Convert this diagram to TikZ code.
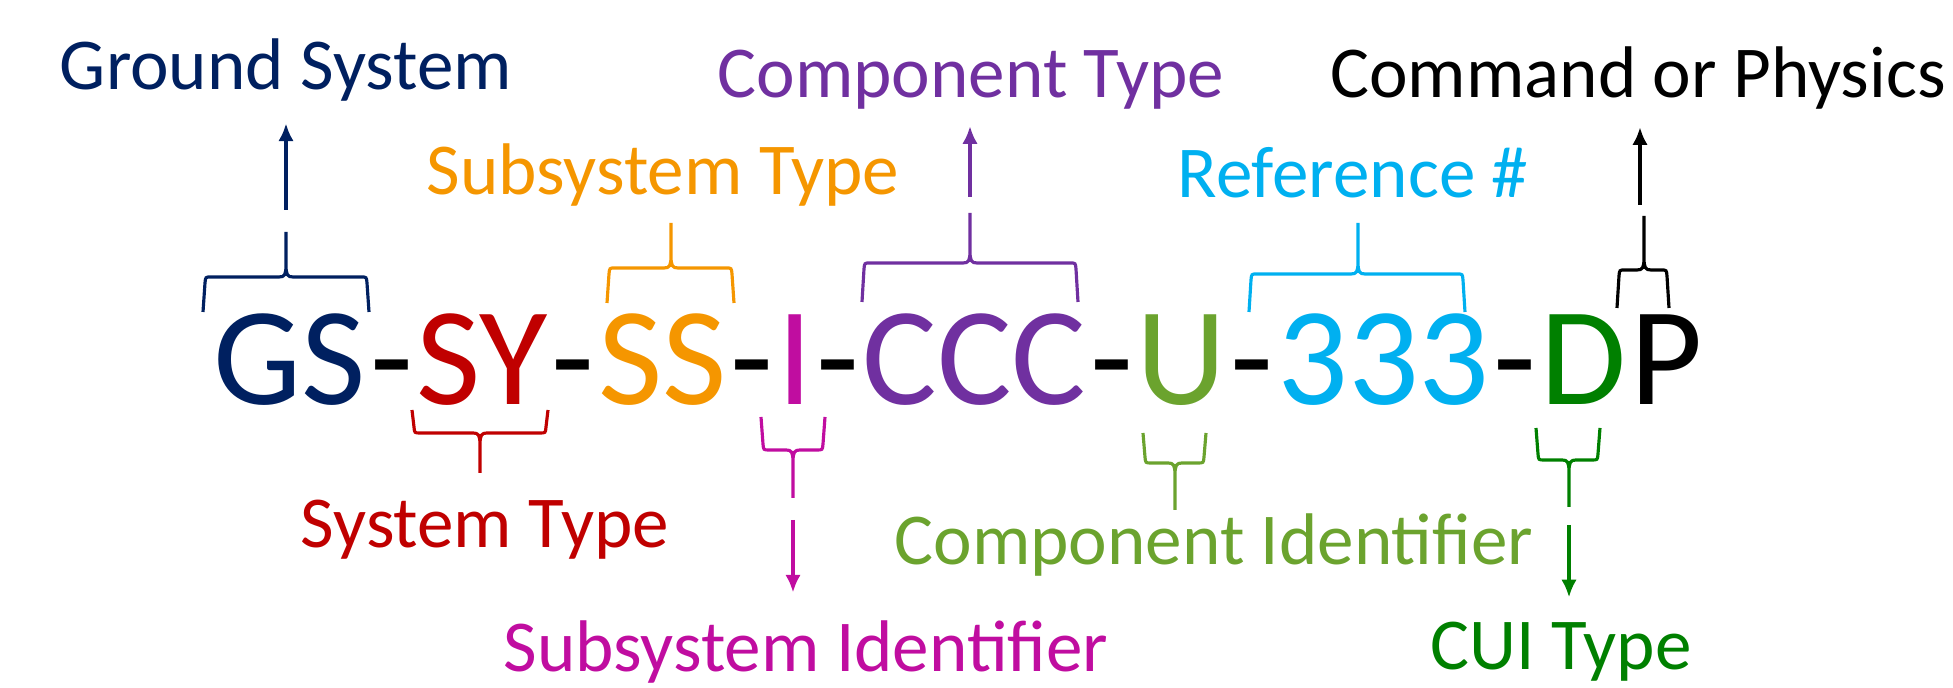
\documentclass[tikz,border=0pt]{standalone}
\usepackage{fontspec}
\setmainfont{Carlito}
\usetikzlibrary{arrows.meta, positioning}

\definecolor{gsnavy}{HTML}{002060}
\definecolor{syred}{HTML}{C00000}
\definecolor{ssorange}{HTML}{F59600}
\definecolor{imagenta}{HTML}{C00DA0}
\definecolor{cccpurple}{HTML}{7030A0}
\definecolor{ugreen}{HTML}{6BA32E}
\definecolor{refcyan}{HTML}{00B0F0}
\definecolor{dgreen}{HTML}{008000}

\tikzset{
  seg/.style={inner sep=0pt, font=\fontsize{39.8}{48}\selectfont},
  lbl/.style={inner sep=0pt, anchor=base, font=\fontsize{20.8}{25}\selectfont},
  brace/.style={line width=0.9pt},
  arr/.style={->, line width=0.9pt},
}

% colour, left x, right x, tip x, end y, bar y, tip y, direction (1 up, -1 down)
\newcommand{\cbrace}[8]{%
  \draw[brace, #1] (#2,#5) -- ({#2+0.02},{#6-(#8)*0.06})
    .. controls ({#2+0.025},{#6}) .. ({#2+0.08},{#6}) -- ({#4-0.07},{#6})
    .. controls ({#4-0.015},{#6}) and ({#4},{#6+(#8)*0.02}) .. ({#4},{#6+(#8)*0.12})
    -- (#4,#7)
    ({#4},{#6+(#8)*0.12})
    .. controls ({#4},{#6+(#8)*0.02}) and ({#4+0.015},{#6}) .. ({#4+0.07},{#6})
    -- ({#3-0.08},{#6})
    .. controls ({#3-0.025},{#6}) .. ({#3-0.02},{#6-(#8)*0.06}) -- (#3,#5);
}

\begin{document}
\begin{tikzpicture}[>={Latex[length=5pt,width=4.4pt]}]
  \useasboundingbox (0,0) rectangle (19.53,6.88);

  % the identifier
  \node[seg, anchor=base west, text=gsnavy] (gs) at (2.13,2.83) {GS};
  \node[seg, base right=0.68pt of gs] (h1) {-};
  \node[seg, base right=0.68pt of h1, text=syred] (sy) {SY};
  \node[seg, base right=0.68pt of sy] (h2) {-};
  \node[seg, base right=0.68pt of h2, text=ssorange] (ss) {SS};
  \node[seg, base right=0.68pt of ss] (h3) {-};
  \node[seg, base right=0.68pt of h3, text=imagenta] (ii) {I};
  \node[seg, base right=0.68pt of ii] (h4) {-};
  \node[seg, base right=0.68pt of h4, text=cccpurple] (ccc) {CCC};
  \node[seg, base right=0.68pt of ccc] (h5) {-};
  \node[seg, base right=0.68pt of h5, text=ugreen] (uu) {U};
  \node[seg, base right=0.68pt of uu] (h6) {-};
  \node[seg, base right=0.68pt of h6, text=refcyan] (ref) {333};
  \node[seg, base right=0.68pt of ref] (h7) {-};
  \node[seg, base right=0.68pt of h7, text=dgreen] (dd) {D};
  \node[seg, base right=0.68pt of dd] (pp) {P};

  % braces above
  \cbrace{gsnavy}{2.03}{3.69}{2.86}{3.76}{4.11}{4.56}{1}
  \cbrace{ssorange}{6.07}{7.34}{6.71}{3.85}{4.20}{4.65}{1}
  \cbrace{cccpurple}{8.62}{10.78}{9.70}{3.86}{4.25}{4.75}{1}
  \cbrace{refcyan}{12.49}{14.65}{13.58}{3.76}{4.14}{4.65}{1}
  \cbrace{black}{16.17}{16.69}{16.44}{3.80}{4.18}{4.72}{1}

  % braces below
  \cbrace{syred}{4.12}{5.48}{4.80}{2.78}{2.55}{2.15}{-1}
  \cbrace{imagenta}{7.61}{8.25}{7.93}{2.71}{2.38}{1.90}{-1}
  \cbrace{ugreen}{11.43}{12.06}{11.75}{2.55}{2.25}{1.78}{-1}
  \cbrace{dgreen}{15.36}{16.00}{15.69}{2.60}{2.28}{1.81}{-1}

  % labels
  \node[lbl, text=gsnavy] (ground) at (2.86,5.98) {Ground System};
  \node[lbl, text=ssorange] (subtype) at (6.63,4.93) {Subsystem Type};
  \node[lbl, text=cccpurple] (comptype) at (9.71,5.90) {Component Type};
  \node[lbl, text=refcyan] (refnum) at (13.53,4.90) {Reference \#};
  \node[lbl, text=black] (cmdphys) at (16.38,5.90) {Command or Physics};
  \node[lbl, text=syred] (systype) at (4.85,1.40) {System Type};
  \node[lbl, text=imagenta] (subid) at (8.06,0.16) {Subsystem Identifier};
  \node[lbl, text=ugreen] (compid) at (12.14,1.23) {Component Identifier};
  \node[lbl, text=dgreen] (cuitype) at (15.61,0.18) {CUI Type};

  % arrows
  \coordinate (gsup) at (2.86,4.78);
  \coordinate (cccup) at (9.70,4.91);
  \coordinate (pup) at (16.40,4.83);
  \coordinate (idown) at (7.93,1.68);
  \coordinate (ddown) at (15.69,1.63);
  \draw[arr, gsnavy, shorten >=6pt] (gsup) -- (gsup |- ground.south);
  \draw[arr, cccpurple, shorten >=4.5pt] (cccup) -- (cccup |- comptype.south);
  \draw[arr, black, shorten >=4.8pt] (pup) -- (pup |- cmdphys.south);
  \draw[arr, imagenta, shorten >=8pt] (idown) -- (idown |- subid.north);
  \draw[arr, dgreen, shorten >=7pt] (ddown) -- (ddown |- cuitype.north);
\end{tikzpicture}
\end{document}
